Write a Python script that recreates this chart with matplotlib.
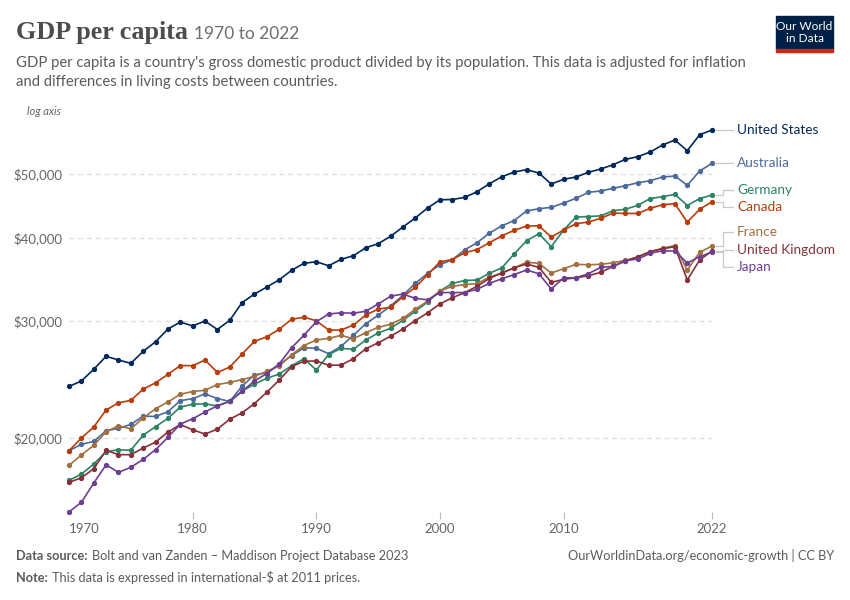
import numpy as np
import matplotlib
matplotlib.use("Agg")
import matplotlib.pyplot as plt
from matplotlib.patches import Rectangle

plt.rcParams['font.family'] = ['Lato', 'DejaVu Sans']

# GDP per capita, international-$ at 2011 prices
years = list(range(1970, 2023))

united_states = [23920, 24370, 25380, 26550, 26210, 25910, 27010, 27920, 29180, 29890,
                 29500, 30000, 29130, 30080, 31980, 32940, 33750, 34610, 35760, 36640,
                 36840, 36330, 37150, 37620, 38670, 39210, 40230, 41550, 42870, 44380,
                 45670, 45700, 46050, 46950, 48280, 49440, 50270, 50680, 50100, 48220,
                 49020, 49410, 50220, 50800, 51560, 52530, 53010, 53880, 55200, 56170,
                 54120, 57200, 58150]
australia = [19140, 19570, 19770, 20510, 20680, 20970, 21570, 21560, 21910, 22770,
             22920, 23310, 22930, 22710, 23950, 24900, 25070, 25800, 26610, 27340,
             27300, 26790, 27480, 28550, 29720, 30600, 31600, 32790, 34180, 35390,
             36460, 37100, 38390, 39350, 40690, 41720, 42490, 43920, 44270, 44480,
             45150, 45890, 46860, 47070, 47510, 47940, 48440, 48780, 49410, 49580,
             48010, 50450, 51810]
germany = [17270, 17650, 18280, 19070, 19210, 19170, 20210, 20800, 21410, 22270,
           22480, 22520, 22350, 22720, 23540, 24110, 24600, 24970, 25690, 26330,
           25310, 26710, 27290, 27200, 28090, 28780, 29250, 30070, 31020, 32040,
           33290, 34180, 34520, 34580, 35400, 36070, 37840, 39610, 40600, 38810,
           41120, 43010, 43090, 43190, 43960, 44190, 44790, 45860, 46150, 46530,
           44760, 45860, 46420]
canada = [19140, 20000, 20780, 22040, 22600, 22790, 23700, 24220, 24940, 25710,
          25700, 26210, 25100, 25580, 26760, 27970, 28400, 29160, 30180, 30400,
          30030, 29080, 29080, 29580, 30630, 31270, 31460, 32630, 33710, 35220,
          36830, 37120, 38010, 38430, 39350, 40300, 41080, 41690, 41730, 40130,
          41120, 42030, 42270, 42820, 43610, 43550, 43550, 44330, 44890, 45040,
          42270, 44180, 45360]
france = [18190, 18860, 19500, 20440, 20870, 20650, 21440, 22140, 22660, 23280,
          23500, 23600, 24070, 24260, 24490, 24770, 25200, 25670, 26680, 27560,
          28090, 28250, 28550, 28210, 28810, 29350, 29660, 30280, 31240, 32150,
          33290, 33830, 34040, 34160, 34920, 35430, 36050, 36770, 36640, 35430,
          35960, 36510, 36460, 36510, 36710, 37020, 37450, 38170, 38590, 38970,
          35800, 38060, 38900]
united_kingdom = [17150, 17430, 17980, 19170, 18880, 18880, 19320, 19720, 20420, 20960,
                  20580, 20280, 20630, 21350, 21830, 22540, 23440, 24450, 25610, 26100,
                  26120, 25740, 25750, 26330, 27250, 27820, 28450, 29180, 30050, 30860,
                  31840, 32520, 33110, 33830, 34780, 35430, 36080, 36550, 36130, 34300,
                  34660, 34850, 35100, 35510, 36260, 36930, 37490, 38140, 38540, 38810,
                  34580, 37060, 38250]
japan = [15480, 16010, 17110, 18230, 17760, 18070, 18580, 19210, 20050, 20990,
         21380, 21890, 22370, 22710, 23510, 24380, 25010, 25860, 27350, 28560,
         29930, 30740, 30870, 30820, 31040, 31820, 32690, 32940, 32450, 32290,
         33110, 33110, 33110, 33490, 34180, 34730, 35240, 35800, 35340, 33520,
         34850, 34850, 35340, 36130, 36260, 36970, 37190, 37930, 38270, 38230,
         36680, 37490, 38100]

countries = ["United States", "Australia", "Germany", "Canada", "France",
             "United Kingdom", "Japan"]
series = [united_states, australia, germany, canada, france, united_kingdom, japan]
colors = ["#00295B", "#4C6A9C", "#2C8465", "#B93C0B", "#A2703F", "#883039", "#6D3E91"]

y_ticks = [20000, 30000, 40000, 50000]
x_ticks = [1970, 1980, 1990, 2000, 2010, 2022]

W, H = 850, 600
fig = plt.figure(figsize=(W / 100, H / 100), dpi=100)
ax_l, ax_b, ax_w, ax_h = 69, 88, 643, 382   # pixels
ax = fig.add_axes([ax_l / W, ax_b / H, ax_w / W, ax_h / H])

for name, vals, col in zip(countries, series, colors):
    ax.plot(years, vals, color=col, lw=1.2, marker='o', ms=2.8, clip_on=False, zorder=3)

ymin = min(min(s) for s in series)
ymax = max(max(s) for s in series)
ax.set_yscale('log')
ax.set_ylim(ymin, ymax)
ax.set_xlim(years[0], years[-1])

ax.set_yticks(y_ticks)
ax.set_yticklabels([f"${v:,}" for v in y_ticks])
ax.yaxis.set_minor_locator(matplotlib.ticker.NullLocator())
ax.tick_params(axis='y', length=0, pad=5, labelsize=9.5, labelcolor='#666666')
ax.grid(axis='y', color='#dddddd', ls=(0, (4, 3)), lw=0.9)
ax.set_axisbelow(True)

ax.set_xticks(x_ticks)
ax.set_xticklabels([str(t) for t in x_ticks])
ax.tick_params(axis='x', length=5, width=0.8, color='#bbbbbb', pad=3,
               labelsize=9.5, labelcolor='#666666')
# first year label sits right of its tick, and its tick is hidden
xt = ax.xaxis.get_major_ticks()[0]
xt.tick1line.set_visible(False)
xt.label1.set_horizontalalignment('left')

for s in ax.spines.values():
    s.set_visible(False)

# right-hand labels, spread apart so they do not overlap
px_per_ln = ax_h / np.log(ymax / ymin)
gap = 17.5 / px_per_ln
last = [np.log(s[-1]) for s in series]
order = sorted(range(len(last)), key=lambda i: -last[i])
groups = [[i] for i in order]
while True:
    pos = {}
    for g in groups:
        c = np.mean([last[i] for i in g])
        for k, i in enumerate(g):
            pos[i] = c + ((len(g) - 1) / 2 - k) * gap
    merged = False
    for a in range(len(groups) - 1):
        if pos[groups[a][-1]] - pos[groups[a + 1][0]] < gap:
            groups[a] = groups[a] + groups[a + 1]
            del groups[a + 1]
            merged = True
            break
    if not merged:
        break

px_per_year = ax_w / (years[-1] - years[0])
x0 = years[-1] + 4 / px_per_year
x1 = years[-1] + 11 / px_per_year
x2 = years[-1] + 21 / px_per_year
xt_ = years[-1] + 25 / px_per_year
for i, (name, col) in enumerate(zip(countries, colors)):
    yl = np.exp(pos[i])
    ye = series[i][-1]
    ax.plot([x0, x1, x1, x2], [ye, ye, yl, yl], color='#c8c8c8', lw=0.9,
            clip_on=False, zorder=1)
    ax.text(xt_, yl, name, color=col, fontsize=9.8, va='center', ha='left',
            clip_on=False)

# header
t_title = fig.text(16 / W, 1 - 39 / H, "GDP per capita", family='Liberation Serif',
                   fontsize=18.8, fontweight='bold', color='#4d4d4d', va='baseline')
fig.canvas.draw()
bb = t_title.get_window_extent(fig.canvas.get_renderer())
fig.text((bb.x1 + 6) / W, 1 - 39 / H, "1970 to 2022", fontsize=12.5,
         color='#6e6e6e', va='baseline')
fig.text(16 / W, 1 - 67 / H,
         "GDP per capita is a country's gross domestic product divided by its population. "
         "This data is adjusted for inflation", fontsize=10.7, color='#5b5b5b', va='baseline')
fig.text(16 / W, 1 - 86 / H, "and differences in living costs between countries.",
         fontsize=10.7, color='#5b5b5b', va='baseline')
fig.text(27 / W, 1 - 115 / H, "log axis", fontsize=8, style='italic',
         color='#666666', va='baseline')

# logo
fig.patches.append(Rectangle((776 / W, 1 - 49 / H), 57 / W, 33 / H,
                             transform=fig.transFigure, color='#002147'))
fig.patches.append(Rectangle((776 / W, 1 - 52 / H), 57 / W, 3 / H,
                             transform=fig.transFigure, color='#ce261e'))
fig.text(804.5 / W, 1 - 26 / H, "Our World", fontsize=8.6, color='white',
         ha='center', va='center')
fig.text(804.5 / W, 1 - 39 / H, "in Data", fontsize=8.6, color='white',
         ha='center', va='center')

# footer
def two_part(x, y, bold, rest):
    t = fig.text(x / W, 1 - y / H, bold, fontsize=9.2, fontweight='bold',
                 color='#5b5b5b', va='baseline')
    fig.canvas.draw()
    b = t.get_window_extent(fig.canvas.get_renderer())
    fig.text((b.x1 + 4) / W, 1 - y / H, rest, fontsize=9.2,
             color='#5b5b5b', va='baseline')

two_part(16, 560, "Data source:", "Bolt and van Zanden – Maddison Project Database 2023")
two_part(16, 582, "Note:", "This data is expressed in international-$ at 2011 prices.")
fig.text(834 / W, 1 - 560 / H, "OurWorldinData.org/economic-growth | CC BY",
         fontsize=9.2, color='#5b5b5b', ha='right', va='baseline')

fig.savefig("out.png", dpi=100)
